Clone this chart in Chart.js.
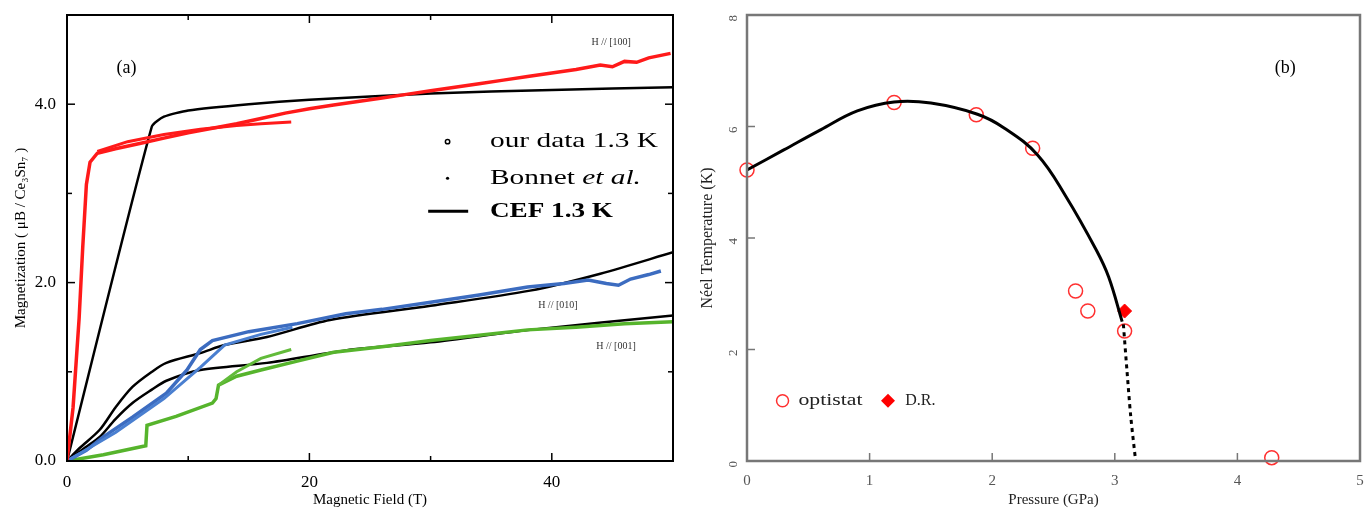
<!DOCTYPE html>
<html>
<head>
<meta charset="utf-8">
<script src="https://cdn.jsdelivr.net/npm/chart.js@4"></script>
<style>
  body { margin: 0; background: #fff; }
  #wrap { position: relative; width: 1369px; height: 513px; }
  #chart-a { position: absolute; left: 0; top: 0; }
  #chart-b { position: absolute; left: 690px; top: 0; }
</style>
</head>
<body>
<div id="wrap">
  <canvas id="chart-a" width="690" height="513"></canvas>
  <canvas id="chart-b" width="679" height="513"></canvas>
</div>
<script>
// ---- panel (a): magnetization vs field ----
const redField = [0, 0.5, 1.0, 1.3, 1.6, 1.9, 2.5, 4, 6, 8, 10, 12, 14, 16, 18, 20, 22, 24, 26, 28, 30, 32, 34, 36, 38, 40, 42, 44, 45, 46, 47, 48, 49.8];
const redMag = [0, 0.6, 1.6, 2.4, 3.1, 3.35, 3.45, 3.5, 3.56, 3.62, 3.68, 3.73, 3.78, 3.84, 3.9, 3.95, 3.99, 4.03, 4.07, 4.11, 4.15, 4.19, 4.23, 4.27, 4.31, 4.35, 4.39, 4.44, 4.42, 4.48, 4.47, 4.52, 4.57];
const redFieldDown = [2.5, 5, 8, 11, 14, 16, 18.5];
const redMagDown = [3.47, 3.58, 3.66, 3.72, 3.76, 3.78, 3.8];

const blueField = [0, 1.6, 3, 5.4, 8.2, 9.9, 11, 12, 15, 19, 23, 26, 30, 34, 38, 41, 43, 44.5, 45.5, 46.5, 48, 49];
const blueMag = [0, 0.12, 0.27, 0.49, 0.76, 1.02, 1.25, 1.35, 1.45, 1.54, 1.65, 1.7, 1.78, 1.86, 1.95, 1.99, 2.03, 1.99, 1.97, 2.04, 2.09, 2.13];
const blueFieldDown = [0, 4, 8, 11, 13, 16, 18.6];
const blueMagDown = [0, 0.32, 0.7, 1.05, 1.3, 1.42, 1.5];

const greenField = [0, 3, 6.5, 6.6, 9, 12, 12.3, 12.5, 14, 16, 19, 22, 26, 30, 34, 38, 42, 46, 50];
const greenMag = [0, 0.07, 0.17, 0.4, 0.5, 0.65, 0.7, 0.85, 0.95, 1.02, 1.12, 1.22, 1.28, 1.35, 1.41, 1.47, 1.5, 1.54, 1.56];
const greenFieldDown = [12.5, 14, 16, 18.5];
const greenMagDown = [0.85, 1.0, 1.15, 1.25];

const cef100Field = [0, 7.0, 8, 10, 15, 20, 30, 40, 50];
const cef100Mag = [0, 3.75, 3.86, 3.93, 4.0, 4.05, 4.12, 4.16, 4.19];
const cef010Field = [0, 1, 2.7, 4, 5.4, 7, 8.2, 11, 13, 16.5, 21.7, 30, 38.2, 44, 50];
const cef010Mag = [0, 0.14, 0.35, 0.6, 0.83, 1.0, 1.1, 1.21, 1.3, 1.39, 1.58, 1.74, 1.91, 2.1, 2.34];
const cef001Field = [0, 1.5, 2.7, 4, 5.4, 7, 8.2, 11, 16.5, 23, 30, 38.2, 50];
const cef001Mag = [0, 0.15, 0.27, 0.47, 0.65, 0.8, 0.9, 1.02, 1.1, 1.24, 1.33, 1.47, 1.63];

const fieldTicks = [0, 20, 40];
const fieldMinor = [10, 30];
const magTicks = [0, 2, 4];
const magMinor = [1, 3];

// ---- panel (b): Neel temperature vs pressure ----
const optistatP = [0, 1.2, 1.87, 2.33, 2.68, 2.78, 3.08, 4.28];
const optistatT = [5.22, 6.43, 6.21, 5.61, 3.05, 2.69, 2.33, 0.06];
const drP = [3.08];
const drT = [2.69];
const fitP = [0, 0.3, 0.6, 0.9, 1.2, 1.5, 1.88, 2.1, 2.37, 2.6, 2.85, 2.95, 3.06];
const fitT = [5.22, 5.58, 5.94, 6.28, 6.44, 6.42, 6.22, 5.97, 5.49, 4.75, 3.78, 3.3, 2.5];
const dashP = [3.07, 3.1, 3.13, 3.17];
const dashT = [2.45, 1.6, 0.8, 0];
const pressureTicks = [0, 1, 2, 3, 4, 5];
const tempTicks = [0, 2, 4, 6, 8];

const SERIF = '"Liberation Serif", "DejaVu Serif", serif';

function pts(xs, ys) {
  return xs.map((x, i) => ({ x: x, y: ys[i] }));
}

function line(xs, ys, color, width, extra) {
  return Object.assign({
    data: pts(xs, ys),
    showLine: true,
    borderColor: color,
    backgroundColor: color,
    borderWidth: width,
    pointRadius: 0,
    tension: 0
  }, extra || {});
}

// text squeezed/stretched to a target width (the reference type is wide)
function wideText(ctx, text, px, py, sx) {
  ctx.save();
  ctx.translate(px, py);
  ctx.scale(sx, 1);
  ctx.fillText(text, 0, 0);
  ctx.restore();
  return ctx.measureText(text).width * sx;
}

// frame, inward ticks and free text drawn on top of the plot
const decor = {
  id: 'decor',
  afterDatasetsDraw(chart, args, o) {
    const { ctx, chartArea: a, scales: { x, y } } = chart;
    ctx.save();
    ctx.strokeStyle = o.color;
    ctx.lineWidth = o.width;
    ctx.strokeRect(a.left, a.top, a.right - a.left, a.bottom - a.top);
    ctx.lineWidth = 1.5;
    const tick = (list, len, horiz, sides) => {
      list.forEach(v => {
        if (horiz) {
          const px = x.getPixelForValue(v);
          if (sides.includes('b')) { ctx.beginPath(); ctx.moveTo(px, a.bottom); ctx.lineTo(px, a.bottom - len); ctx.stroke(); }
          if (sides.includes('t')) { ctx.beginPath(); ctx.moveTo(px, a.top); ctx.lineTo(px, a.top + len); ctx.stroke(); }
        } else {
          const py = y.getPixelForValue(v);
          if (sides.includes('l')) { ctx.beginPath(); ctx.moveTo(a.left, py); ctx.lineTo(a.left + len, py); ctx.stroke(); }
          if (sides.includes('r')) { ctx.beginPath(); ctx.moveTo(a.right, py); ctx.lineTo(a.right - len, py); ctx.stroke(); }
        }
      });
    };
    tick(o.xMajor, 8, true, o.sides);
    tick(o.xMinor, 5, true, o.sides);
    tick(o.yMajor, 8, false, o.sides);
    tick(o.yMinor, 5, false, o.sides);
    (o.texts || []).forEach(t => {
      ctx.font = t.font;
      ctx.fillStyle = t.color || '#000';
      ctx.textAlign = t.align || 'left';
      ctx.textBaseline = 'middle';
      ctx.fillText(t.text, x.getPixelForValue(t.x), y.getPixelForValue(t.y));
    });
    if (o.legend) o.legend(ctx, x, y);
    ctx.restore();
  }
};

new Chart(document.getElementById('chart-a'), {
  type: 'scatter',
  data: {
    datasets: [
      line(redFieldDown, redMagDown, '#ff1a1a', 3),
      line(redField, redMag, '#ff1a1a', 3.5),
      line(blueFieldDown, blueMagDown, '#4a7fd0', 3),
      line(blueField, blueMag, '#3c6cc0', 3.5),
      line(greenFieldDown, greenMagDown, '#62bb3a', 3),
      line(greenField, greenMag, '#56b42c', 3.5),
      line(cef100Field, cef100Mag, '#000', 2.5, { tension: 0.2 }),
      line(cef010Field, cef010Mag, '#000', 2.5, { tension: 0.3 }),
      line(cef001Field, cef001Mag, '#000', 2.5, { tension: 0.3 })
    ]
  },
  options: {
    responsive: false,
    animation: false,
    layout: { padding: { left: 0, right: 17, top: 15, bottom: 0 } },
    plugins: {
      legend: { display: false },
      tooltip: { enabled: false },
      decor: {
        color: '#000', width: 2, sides: 'bltr',
        xMajor: fieldTicks, xMinor: fieldMinor, yMajor: magTicks, yMinor: magMinor,
        texts: [
          { text: '(a)', x: 4.9, y: 4.4, font: '18px ' + SERIF, align: 'center' },
          { text: 'H // [100]', x: 44.9, y: 4.69, font: '10px ' + SERIF, align: 'center', color: '#333' },
          { text: 'H // [010]', x: 40.5, y: 1.74, font: '10px ' + SERIF, align: 'center', color: '#333' },
          { text: 'H // [001]', x: 45.3, y: 1.28, font: '10px ' + SERIF, align: 'center', color: '#333' }
        ],
        legend: (ctx, x, y) => {
          const tx = x.getPixelForValue(34.9);
          const rows = [3.58, 3.17, 2.80].map(v => y.getPixelForValue(v));
          ctx.textAlign = 'left';
          ctx.fillStyle = '#000';
          ctx.strokeStyle = '#000';
          ctx.lineWidth = 1.5;
          ctx.beginPath(); ctx.arc(x.getPixelForValue(31.4), rows[0], 2.2, 0, Math.PI * 2); ctx.stroke();
          ctx.beginPath(); ctx.arc(x.getPixelForValue(31.4), rows[1], 1.6, 0, Math.PI * 2); ctx.fill();
          ctx.lineWidth = 3;
          ctx.beginPath(); ctx.moveTo(x.getPixelForValue(29.8), rows[2]); ctx.lineTo(x.getPixelForValue(33.1), rows[2]); ctx.stroke();
          ctx.font = '21px ' + SERIF;
          const sx = 168 / ctx.measureText('our data 1.3 K').width;
          wideText(ctx, 'our data 1.3 K', tx, rows[0], sx);
          const w = wideText(ctx, 'Bonnet ', tx, rows[1], sx);
          ctx.font = 'italic 21px ' + SERIF;
          wideText(ctx, 'et al.', tx + w, rows[1], sx);
          ctx.font = 'bold 21px ' + SERIF;
          wideText(ctx, 'CEF 1.3 K', tx, rows[2], 123 / ctx.measureText('CEF 1.3 K').width);
        }
      }
    },
    scales: {
      x: {
        type: 'linear', min: 0, max: 50,
        afterBuildTicks: s => { s.ticks = fieldTicks.map(v => ({ value: v })); },
        afterFit: s => { s.height = 52; },
        grid: { display: false },
        border: { display: false },
        ticks: { color: '#000', font: { family: SERIF, size: 17 }, padding: 3, maxRotation: 0 },
        title: { display: true, text: 'Magnetic Field (T)', color: '#000', font: { family: SERIF, size: 15 }, padding: { top: 6 } }
      },
      y: {
        type: 'linear', min: 0, max: 5,
        afterBuildTicks: s => { s.ticks = magTicks.map(v => ({ value: v })); },
        afterFit: s => { s.width = 67; },
        grid: { display: false },
        border: { display: false },
        ticks: { color: '#000', font: { family: SERIF, size: 17 }, padding: 3, callback: v => v.toFixed(1) },
        title: { display: true, text: 'Magnetization ( μB / Ce₃Sn₇ )', color: '#000', font: { family: SERIF, size: 15 }, padding: { top: 12, bottom: 0 } }
      }
    }
  },
  plugins: [decor]
});

new Chart(document.getElementById('chart-b'), {
  type: 'scatter',
  data: {
    datasets: [
      line(fitP, fitT, '#000', 3, { tension: 0.4 }),
      line(dashP, dashT, '#000', 3, { borderDash: [4, 4], tension: 0.3 }),
      {
        data: pts(optistatP, optistatT),
        pointStyle: 'circle', pointRadius: 7, borderWidth: 1.5, clip: false,
        borderColor: '#ff3030', backgroundColor: 'rgba(255,255,255,0)'
      },
      {
        data: pts(drP, drT),
        pointStyle: 'rectRot', pointRadius: 7, borderWidth: 1,
        borderColor: '#ff0000', backgroundColor: '#ff0000'
      }
    ]
  },
  options: {
    responsive: false,
    animation: false,
    layout: { padding: { left: 0, right: 9, top: 15, bottom: 0 } },
    plugins: {
      legend: { display: false },
      tooltip: { enabled: false },
      decor: {
        color: '#777', width: 2.5, sides: 'bl',
        xMajor: pressureTicks.slice(1, 5), xMinor: [], yMajor: tempTicks.slice(1, 4), yMinor: [],
        texts: [
          { text: '(b)', x: 4.39, y: 7.05, font: '18px ' + SERIF, align: 'center' }
        ],
        legend: (ctx, x, y) => {
          const py = y.getPixelForValue(1.08);
          ctx.lineWidth = 1.5;
          ctx.strokeStyle = '#ff3030';
          ctx.beginPath(); ctx.arc(x.getPixelForValue(0.29), py, 6, 0, Math.PI * 2); ctx.stroke();
          ctx.fillStyle = '#ff0000';
          const dx = x.getPixelForValue(1.15);
          ctx.beginPath(); ctx.moveTo(dx, py - 7); ctx.lineTo(dx + 7, py); ctx.lineTo(dx, py + 7); ctx.lineTo(dx - 7, py); ctx.closePath(); ctx.fill();
          ctx.fillStyle = '#222';
          ctx.font = '16px ' + SERIF;
          ctx.textAlign = 'left';
          wideText(ctx, 'optistat', x.getPixelForValue(0.42), py, 64 / ctx.measureText('optistat').width);
          ctx.fillText('D.R.', x.getPixelForValue(1.29), py);
        }
      }
    },
    scales: {
      x: {
        type: 'linear', min: 0, max: 5,
        afterBuildTicks: s => { s.ticks = pressureTicks.map(v => ({ value: v })); },
        afterFit: s => { s.height = 52; },
        grid: { display: false },
        border: { display: false },
        ticks: { color: '#555', font: { family: SERIF, size: 15 }, padding: 3, maxRotation: 0 },
        title: { display: true, text: 'Pressure (GPa)', color: '#222', font: { family: SERIF, size: 15 }, padding: { top: 9 } }
      },
      y: {
        type: 'linear', min: 0, max: 8,
        afterBuildTicks: s => { s.ticks = tempTicks.map(v => ({ value: v })); },
        afterFit: s => { s.width = 57; },
        grid: { display: false },
        border: { display: false },
        ticks: { color: '#555', font: { family: SERIF, size: 13 }, padding: 5, minRotation: 90, maxRotation: 90 },
        title: { display: true, text: 'Néel Temperature (K)', color: '#222', font: { family: SERIF, size: 16 }, padding: { top: 8, bottom: 0 } }
      }
    }
  },
  plugins: [decor]
});
</script>
</body>
</html>
